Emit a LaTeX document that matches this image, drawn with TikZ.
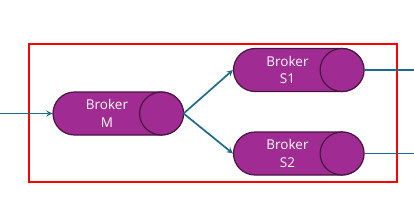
\documentclass[tikz,border=0pt]{standalone}
\usepackage{fontspec}
\setmainfont{Open Sans}
\definecolor{brokerfill}{HTML}{A02B93}
\definecolor{brokerline}{HTML}{4A1442}
\definecolor{linkcol}{HTML}{1F6A8A}
\begin{document}
\begin{tikzpicture}[x=1pt,y=-1pt,>=stealth,
    broker/.style={draw=brokerline,fill=brokerfill,line width=1.2pt,
      rounded corners=21.5pt,minimum width=130pt,minimum height=43pt,inner sep=0pt},
    brokercap/.style={draw=brokerline,fill=brokerfill,line width=1.2pt},
    brokertext/.style={text=white,align=center,inner sep=0pt,
      font=\fontsize{13.5}{17.5}\selectfont},
    link/.style={linkcol,line width=1.7pt}]
    \useasboundingbox (0,0) rectangle (414,220);
    % --- the group of brokers ---
    \draw[red,line width=1.6pt] (29,44) rectangle (397,182);
    \node[broker] (m) at (118,113.5) {};
    \node[broker] (s1) at (298.5,70) {};
    \node[broker] (s2) at (298.5,153.5) {};
    \foreach \b in {m,s1,s2}
      \draw[brokercap] ([xshift=-22pt]\b.east) ellipse (22pt and 21.5pt);
    \node[brokertext] (mtext) at ([xshift=-11pt]m.center) {Broker\\M};
    \node[brokertext] (s1text) at ([xshift=-11pt]s1.center) {Broker\\S1};
    \node[brokertext] (s2text) at ([xshift=-11pt]s2.center) {Broker\\S2};
    % --- links ---
    \coordinate (in) at (0,113.5);
    \coordinate (out1) at (414,70);
    \coordinate (out2) at (414,153.5);
    \draw[link,->] (in) -- (m.west);
    \draw[link,->] (m.east) -- (s1.west);
    \draw[link,->] (m.east) -- (s2.west);
    \draw[link] (s1.east) -- (out1);
    \draw[link] (s2.east) -- (out2);
\end{tikzpicture}
\end{document}
